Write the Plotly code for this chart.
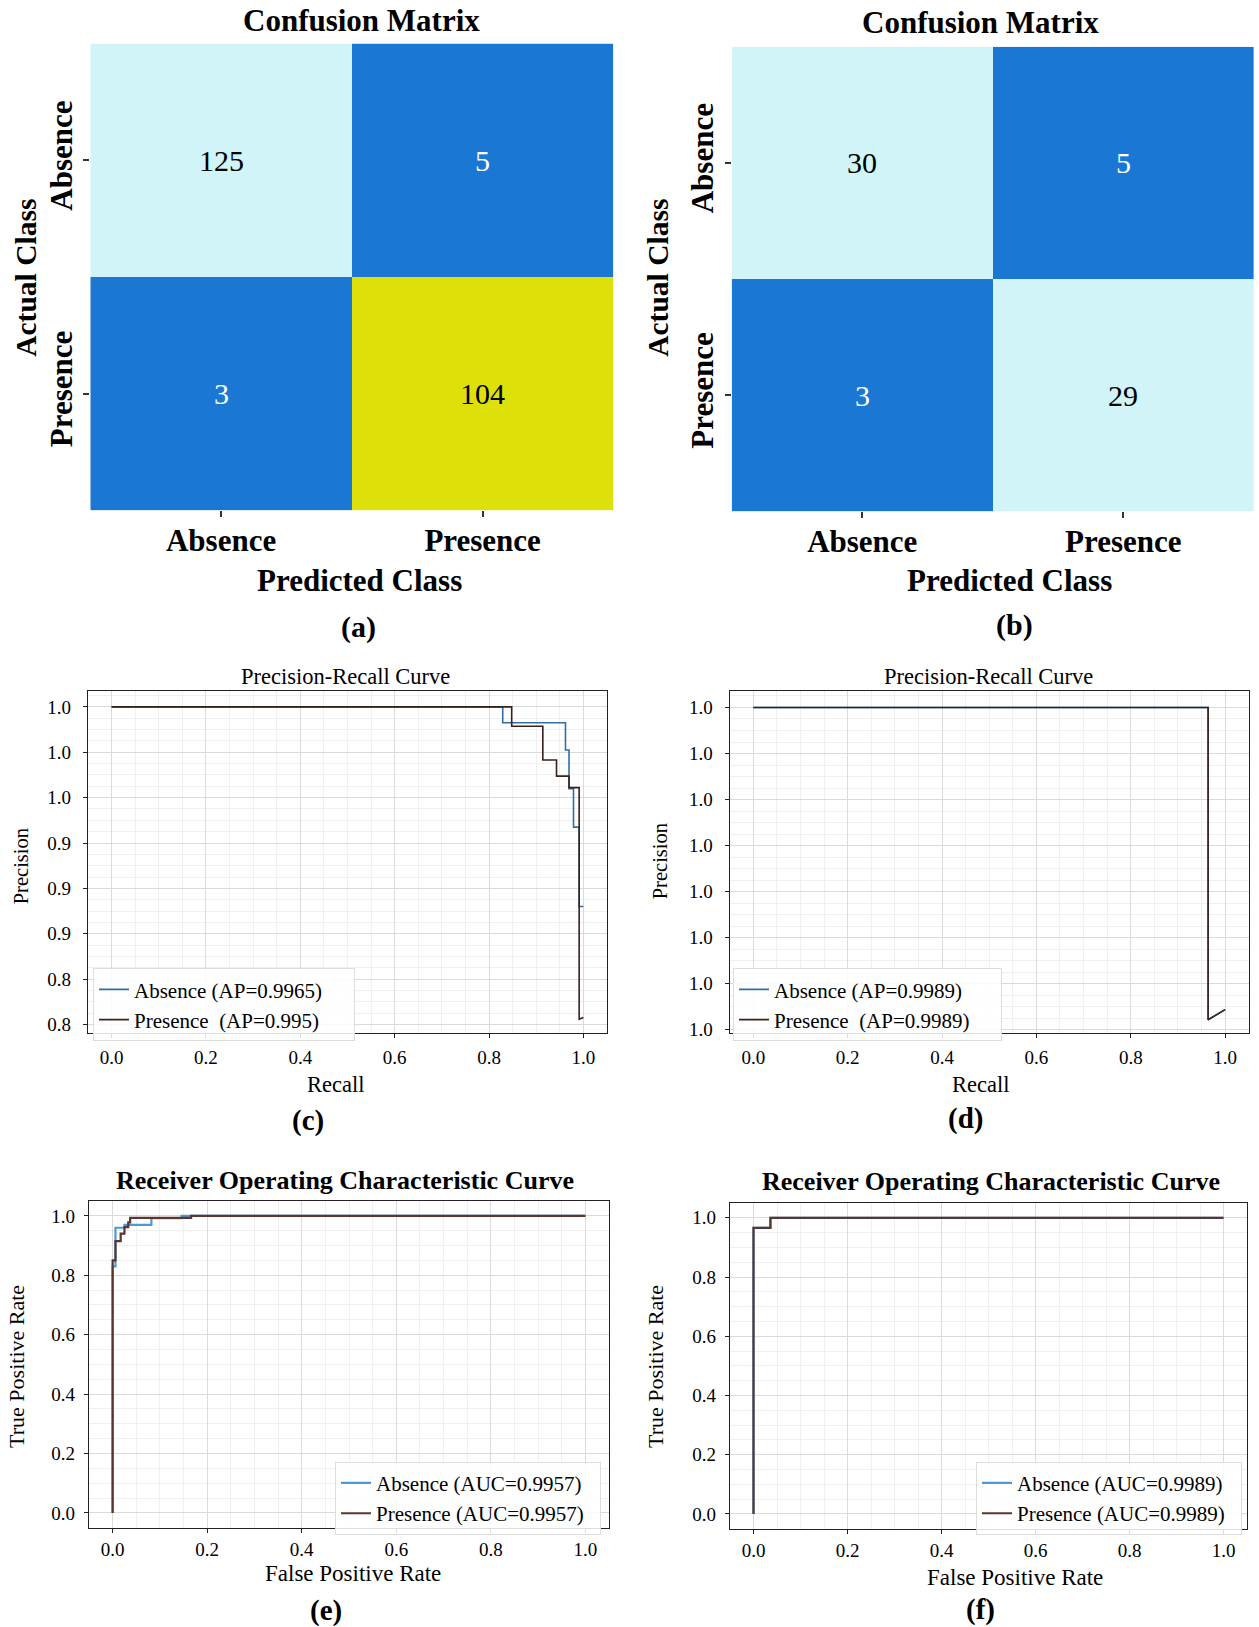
import plotly.graph_objects as go

W, H = 1259, 1627
SERIF = "Liberation Serif"
YS = 1.0035  # small vertical calibration of pixel positions

# ---------------- data ----------------
CLASSES = ["Absence", "Presence"]
CM_A = [[125, 5], [3, 104]]
CM_B = [[30, 5], [3, 29]]

# Precision-Recall (c)
PR_C_ABS_RECALL = [0.0, 0.829, 0.829, 0.962, 0.962, 0.9695, 0.9695, 0.979, 0.979, 0.991, 0.991, 1.0]
PR_C_ABS_PREC = [1.0, 1.0, 0.993, 0.993, 0.981, 0.981, 0.964, 0.964, 0.947, 0.947, 0.912, 0.912]
PR_C_PRE_RECALL = [0.0, 0.848, 0.848, 0.914, 0.914, 0.943, 0.943, 0.9695, 0.9695, 0.991, 0.991, 1.0]
PR_C_PRE_PREC = [1.0, 1.0, 0.9915, 0.9915, 0.9766, 0.9766, 0.9695, 0.9695, 0.9644, 0.9644, 0.8623, 0.8631]
PR_C_YTICKVALS = [1.00, 0.98, 0.96, 0.94, 0.92, 0.90, 0.88, 0.86]
PR_C_YTICKTEXT = ["1.0", "1.0", "1.0", "0.9", "0.9", "0.9", "0.8", "0.8"]

# Precision-Recall (d)
PR_D_ABS_RECALL = [0.0, 0.964, 0.964, 1.0]
PR_D_ABS_PREC = [1.0, 1.0, 0.9661, 0.9672]
PR_D_PRE_RECALL = [0.0, 0.964, 0.964, 1.0]
PR_D_PRE_PREC = [1.0, 1.0, 0.9661, 0.9672]
PR_D_YTICKVALS = [1.0, 0.995, 0.99, 0.985, 0.98, 0.975, 0.97, 0.965]
PR_D_YTICKTEXT = ["1.0"] * 8

# ROC (e)
ROC_E_ABS_FPR = [0.0, 0.0, 0.006, 0.006, 0.025, 0.025, 0.082, 0.082, 0.146, 0.146, 1.0]
ROC_E_ABS_TPR = [0.0, 0.83, 0.83, 0.96, 0.96, 0.97, 0.97, 0.992, 0.992, 1.0, 1.0]
ROC_E_PRE_FPR = [0.0, 0.0, 0.006, 0.006, 0.017, 0.017, 0.025, 0.025, 0.033, 0.033, 0.037, 0.037, 0.166, 0.166, 1.0]
ROC_E_PRE_TPR = [0.0, 0.85, 0.85, 0.915, 0.915, 0.94, 0.94, 0.962, 0.962, 0.978, 0.978, 0.993, 0.993, 1.0, 1.0]

# ROC (f)
ROC_F_ABS_FPR = [0.0, 0.0, 0.036, 0.036, 1.0]
ROC_F_ABS_TPR = [0.0, 0.966, 0.966, 1.0, 1.0]
ROC_F_PRE_FPR = [0.0, 0.0, 0.036, 0.036, 1.0]
ROC_F_PRE_TPR = [0.0, 0.966, 0.966, 1.0, 1.0]

PAD = "\u00a0" * 5
PAD2 = "\u00a0" * 2
LEG_C = ["Absence (AP=0.9965)" + PAD, "Presence\u00a0 (AP=0.995)" + PAD]
LEG_D = ["Absence (AP=0.9989)" + PAD, "Presence\u00a0 (AP=0.9989)" + PAD]
LEG_E = ["Absence (AUC=0.9957)" + PAD2, "Presence (AUC=0.9957)" + PAD2]
LEG_F = ["Absence (AUC=0.9989)" + PAD2, "Presence (AUC=0.9989)" + PAD2]

# ---------------- styles ----------------
C_BLUE = "#1a78d4"
C_CYAN = "#d0f4f7"
C_YEL = "#dee00a"
CM_SCALE = [[0, C_BLUE], [0.5, C_BLUE], [0.5, C_YEL], [0.9, C_YEL], [0.9, C_CYAN], [1, C_CYAN]]

PR_ABS_COL = "#2f6fa5"
PR_PRE_COL = "#3a221c"
ROC_ABS_COL = "#4a9ad8"
ROC_PRE_COL = "#5a372e"


def dx(x0, x1):
    return [x0 / W, x1 / W]


def dy(y0, y1):
    return [1 - y1 * YS / H, 1 - y0 * YS / H]


def ann(text, x, y, size, bold=False, angle=0):
    return dict(text=text, x=x / W, y=1 - y * YS / H, xref="paper", yref="paper",
                showarrow=False, xanchor="center", yanchor="middle", textangle=angle,
                font=dict(family=SERIF, size=size, color="black",
                          weight="bold" if bold else "normal"))


fig = go.Figure()
annotations = []

# ---------------- confusion matrices ----------------
for cm, xa, ya in [(CM_A, "x", "y"), (CM_B, "x2", "y2")]:
    flat = [v for row in cm for v in row]
    zmin, zmax = min(flat), max(flat)
    fig.add_trace(go.Heatmap(z=cm, x=CLASSES, y=CLASSES, colorscale=CM_SCALE,
                             zmin=zmin, zmax=zmax, showscale=False, xgap=0, ygap=0,
                             xaxis=xa, yaxis=ya, hoverinfo="skip"))
    for i, row in enumerate(cm):
        for j, v in enumerate(row):
            norm = (v - zmin) / (zmax - zmin)
            annotations.append(dict(text=str(v), x=CLASSES[j], y=CLASSES[i], xref=xa, yref=ya,
                                    showarrow=False,
                                    font=dict(family=SERIF, size=30,
                                              color="white" if norm < 0.5 else "black")))

cm_x = dict(showgrid=False, zeroline=False, showline=False, ticks="outside", ticklen=6,
            tickwidth=2, tickcolor="#333",
            tickfont=dict(family=SERIF, size=31, color="black", weight="bold"),
            ticklabelstandoff=-3)
cm_y = dict(showgrid=False, zeroline=False, showline=False, ticks="outside", ticklen=6,
            tickwidth=2, tickcolor="#333", autorange="reversed", tickangle=-90,
            tickfont=dict(family=SERIF, size=31, color="black", weight="bold"),
            ticklabelstandoff=-1)

fig.update_layout(
    xaxis=dict(domain=dx(90.3, 613.4), anchor="y", **cm_x),
    yaxis=dict(domain=dy(43.6, 510.7), anchor="x", **cm_y),
    xaxis2=dict(domain=dx(731.7, 1253.9), anchor="y2", **cm_x),
    yaxis2=dict(domain=dy(46.7, 511.7), anchor="x2", **cm_y),
)

# ---------------- line charts ----------------
def line(x, y, name, color, xa, ya, leg, width=1.6):
    fig.add_trace(go.Scatter(x=x, y=y, mode="lines", name=name,
                             line=dict(color=color, width=width),
                             xaxis=xa, yaxis=ya, legend=leg, showlegend=True,
                             hoverinfo="skip"))


line(PR_C_ABS_RECALL, PR_C_ABS_PREC, LEG_C[0], PR_ABS_COL, "x3", "y3", "legend")
line(PR_C_PRE_RECALL, PR_C_PRE_PREC, LEG_C[1], PR_PRE_COL, "x3", "y3", "legend")
line(PR_D_ABS_RECALL, PR_D_ABS_PREC, LEG_D[0], PR_ABS_COL, "x4", "y4", "legend2")
line(PR_D_PRE_RECALL, PR_D_PRE_PREC, LEG_D[1], PR_PRE_COL, "x4", "y4", "legend2")
line(ROC_E_ABS_FPR, ROC_E_ABS_TPR, LEG_E[0], ROC_ABS_COL, "x5", "y5", "legend3", 2.2)
line(ROC_E_PRE_FPR, ROC_E_PRE_TPR, LEG_E[1], ROC_PRE_COL, "x5", "y5", "legend3", 2.2)
line(ROC_F_ABS_FPR, ROC_F_ABS_TPR, LEG_F[0], ROC_ABS_COL, "x6", "y6", "legend4", 2.2)
line(ROC_F_PRE_FPR, ROC_F_PRE_TPR, LEG_F[1], ROC_PRE_COL, "x6", "y6", "legend4", 2.2)

base = dict(showline=True, linecolor="#222", linewidth=1.3, mirror=True, ticks="outside",
            ticklen=4, tickcolor="#222", zeroline=False, showgrid=True, gridcolor="#dadada",
            gridwidth=1, tickfont=dict(family=SERIF, size=19, color="black"))
minor_x = dict(tickmode="linear", tick0=0, dtick=0.05, showgrid=True,
               gridcolor="#f0f0f0", ticks="")


def xlin(standoff):
    return dict(range=[-0.05, 1.05], tickmode="linear", tick0=0, dtick=0.2, tickformat=".1f",
                ticklabelstandoff=standoff, minor=minor_x, **base)


fig.update_layout(
    xaxis3=dict(domain=dx(88, 607), anchor="y3", **xlin(3)),
    yaxis3=dict(domain=dy(692, 1034), anchor="x3", range=[0.85617, 1.00683], tickmode="array",
                tickvals=PR_C_YTICKVALS, ticktext=PR_C_YTICKTEXT, ticklabelstandoff=8,
                minor=dict(tickmode="linear", tick0=0.86, dtick=0.005, showgrid=True,
                           gridcolor="#f0f0f0", ticks=""), **base),
    xaxis4=dict(domain=dx(729.7, 1248.7), anchor="y4", **xlin(3)),
    yaxis4=dict(domain=dy(692, 1034), anchor="x4", range=[0.96464, 1.00174], tickmode="array",
                tickvals=PR_D_YTICKVALS, ticktext=PR_D_YTICKTEXT, ticklabelstandoff=8,
                minor=dict(tickmode="linear", tick0=0.965, dtick=0.00125, showgrid=True,
                           gridcolor="#f0f0f0", ticks=""), **base),
    xaxis5=dict(domain=dx(89, 609), anchor="y5", **xlin(0)),
    yaxis5=dict(domain=dy(1202, 1529), anchor="x5", range=[-0.05, 1.05], tickmode="linear",
                tick0=0, dtick=0.2, tickformat=".1f", ticklabelstandoff=5,
                minor=dict(tickmode="linear", tick0=0, dtick=0.05, showgrid=True,
                           gridcolor="#f0f0f0", ticks=""), **base),
    xaxis6=dict(domain=dx(730, 1247), anchor="y6", **xlin(0)),
    yaxis6=dict(domain=dy(1204, 1530), anchor="x6", range=[-0.05, 1.05], tickmode="linear",
                tick0=0, dtick=0.2, tickformat=".1f", ticklabelstandoff=5,
                minor=dict(tickmode="linear", tick0=0, dtick=0.05, showgrid=True,
                           gridcolor="#f0f0f0", ticks=""), **base),
)

leg_style = dict(bgcolor="rgba(255,255,255,0.85)", bordercolor="#dddddd", borderwidth=1,
                 font=dict(family=SERIF, size=21, color="black"), xanchor="left",
                 yanchor="top", tracegroupgap=0, itemwidth=30)
fig.update_layout(
    legend=dict(x=93 / W, y=1 - 969 * YS / H, **leg_style),
    legend2=dict(x=733 / W, y=1 - 969 * YS / H, **leg_style),
    legend3=dict(x=335 / W, y=1 - 1463 * YS / H, **leg_style),
    legend4=dict(x=976 / W, y=1 - 1463 * YS / H, **leg_style),
)

# ---------------- text ----------------
annotations += [
    ann("Confusion Matrix", 361, 21, 31, True),
    ann("Confusion Matrix", 980, 23, 31, True),
    ann("Predicted Class", 359, 581, 31, True),
    ann("Predicted Class", 1009, 581, 31, True),
    ann("Actual Class", 26, 278, 29.5, True, -90),
    ann("Actual Class", 658, 278, 29.5, True, -90),
    ann("(a)", 358, 628, 30, True),
    ann("(b)", 1014, 626, 30, True),
    ann("Precision-Recall Curve", 345, 677, 22.5),
    ann("Precision-Recall Curve", 988, 677, 22.5),
    ann("Recall", 335, 1085, 22.5),
    ann("Recall", 980, 1085, 22.5),
    ann("Precision", 21, 867, 20.5, False, -90),
    ann("Precision", 660, 862, 20.5, False, -90),
    ann("(c)", 308, 1121, 29, True),
    ann("(d)", 965, 1119, 29, True),
    ann("Receiver Operating Characteristic Curve", 345, 1181, 26, True),
    ann("Receiver Operating Characteristic Curve", 991, 1182, 26, True),
    ann("False Positive Rate", 353, 1575, 23),
    ann("False Positive Rate", 1015, 1579, 23),
    ann("True Positive Rate", 17, 1368, 22, False, -90),
    ann("True Positive Rate", 656, 1368, 22, False, -90),
    ann("(e)", 326, 1612, 29, True),
    ann("(f)", 980, 1611, 29, True),
]

fig.update_layout(width=W, height=H, margin=dict(l=0, r=0, t=0, b=0),
                  paper_bgcolor="white", plot_bgcolor="white", annotations=annotations)

fig.write_html("out.html")
